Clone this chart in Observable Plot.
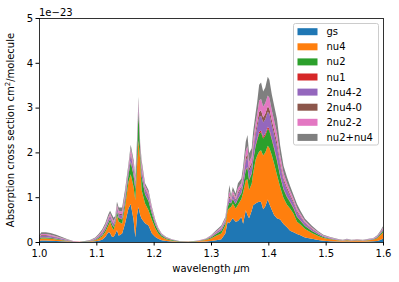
<!DOCTYPE html>
<html><head><meta charset="utf-8">
<script src="https://cdn.jsdelivr.net/npm/d3@7"></script>
<script src="https://cdn.jsdelivr.net/npm/@observablehq/plot@0.6"></script>
<style>body{margin:0;background:#fff}#chart{width:399px;height:282px}</style>
</head><body><div id="chart"></div>
<script>
const wavelength = [
1.000,1.004,1.012,1.020,1.030,1.040,1.050,1.060,1.070,1.080,
1.090,1.098,1.104,1.110,1.1155,1.121,1.124,1.127,1.130,1.133,
1.136,1.139,1.145,1.150,1.156,1.160,1.165,1.168,1.171,1.1735,
1.1765,1.179,1.185,1.191,1.197,1.203,1.208,1.214,1.222,1.232,
1.245,1.260,1.270,1.279,1.291,1.300,1.309,1.318,1.325,1.329,
1.332,1.335,1.338,1.343,1.347,1.353,1.356,1.3606,1.3636,1.3664,
1.371,1.3735,1.3777,1.3806,1.384,1.3873,1.391,1.3947,1.399,1.4018,
1.406,1.410,1.415,1.4207,1.4265,1.4325,1.438,1.444,1.450,1.456,
1.464,1.476,1.487,1.496,1.508,1.520,1.530,1.537,1.545,1.555,
1.565,1.575,1.583,1.590,1.595,1.600];

const gs = [
.02,.035,.035,.03,.025,.017,.009,.004,.002,.003,
.008,.015,.03,.05,.11,.22,.2,.12,.11,.18,
.26,.14,.19,.41,.75,.85,.49,.1,.6,.78,
.6,.52,.42,.37,.19,.11,.07,.04,.02,.01,
.004,.002,.003,.006,.012,.02,.04,.06,.19,.45,
.42,.48,.53,.45,.47,.56,.41,.71,.6,.53,
.7,.82,.86,.88,.9,.9,.73,.8,.95,.85,
.72,.6,.53,.5,.4,.33,.25,.22,.18,.15,
.1,.07,.045,.03,.018,.01,.007,.01,.007,.008,
.007,.01,.014,.025,.045,.07];

const nu4 = [
.03,.045,.045,.04,.032,.022,.012,.005,.002,.004,
.01,.025,.045,.07,.11,.15,.25,.22,.15,.22,
.34,.31,.22,.37,.59,.66,.74,.83,1.1,1.49,
1.23,.64,.44,.34,.3,.19,.12,.07,.04,.02,
.008,.005,.007,.014,.03,.06,.1,.13,.18,.26,
.34,.3,.33,.3,.36,.4,.69,.67,.8,.63,
.6,.71,.97,1.05,1.12,1.15,1.2,1.2,1.2,1.25,
1.22,1.15,.97,.72,.58,.5,.5,.41,.27,.24,
.19,.13,.09,.06,.042,.027,.02,.027,.02,.024,
.02,.027,.036,.06,.1,.14];

const nu2 = [
.015,.02,.02,.02,.016,.011,.006,.003,.001,.002,
.005,.01,.018,.03,.05,.06,.06,.07,.07,.05,
.08,.085,.09,.1,.15,.28,.25,.24,.28,.62,
.18,.3,.2,.2,.13,.08,.055,.033,.02,.012,
.005,.003,.004,.007,.012,.022,.04,.06,.06,.07,
.12,.08,.1,.09,.13,.13,.16,.22,.25,.22,
.22,.27,.3,.34,.4,.4,.38,.38,.38,.38,
.34,.33,.32,.24,.19,.17,.14,.12,.11,.085,
.065,.045,.03,.02,.014,.009,.006,.009,.006,.008,
.006,.009,.011,.018,.027,.04];

const nu1 = [
.003,.005,.005,.005,.004,.003,.002,.001,0,.001,
.001,.002,.004,.005,.008,.01,.01,.01,.01,.008,
.01,.01,.012,.012,.012,.02,.02,.02,.02,.03,
.02,.02,.015,.015,.01,.007,.005,.003,.002,.001,
.001,0,0,.001,.002,.003,.004,.006,.006,.007,
.01,.008,.01,.01,.013,.012,.015,.02,.025,.02,
.02,.025,.03,.035,.04,.04,.04,.04,.04,.04,
.035,.035,.035,.025,.02,.017,.014,.012,.01,.008,
.006,.004,.003,.002,.001,.001,.001,.001,.001,.001,
.001,.001,.001,.002,.003,.004];

const twoNu4m2 = [
.022,.035,.035,.032,.025,.017,.009,.004,.002,.003,
.008,.015,.025,.04,.045,.055,.055,.06,.06,.04,
.065,.07,.08,.085,.08,.13,.12,.11,.11,.12,
.06,.13,.085,.085,.055,.037,.025,.016,.01,.006,
.003,.002,.002,.004,.008,.015,.025,.038,.04,.045,
.1,.055,.08,.07,.1,.1,.13,.19,.22,.18,
.17,.2,.23,.26,.33,.33,.32,.32,.34,.34,
.3,.29,.28,.22,.17,.15,.12,.1,.095,.075,
.055,.038,.025,.017,.012,.008,.005,.008,.005,.006,
.005,.008,.009,.015,.022,.032];

const twoNu4m0 = [
.01,.015,.015,.013,.011,.008,.004,.002,.001,.001,
.003,.006,.01,.015,.017,.02,.02,.02,.02,.015,
.025,.025,.03,.03,.03,.05,.04,.04,.04,.04,
.03,.05,.035,.035,.02,.015,.01,.006,.004,.002,
.001,.001,.001,.002,.003,.006,.01,.015,.016,.018,
.04,.02,.03,.027,.04,.035,.045,.07,.08,.065,
.065,.075,.085,.1,.12,.12,.11,.12,.12,.12,
.11,.1,.1,.075,.06,.05,.04,.035,.03,.025,
.018,.013,.008,.005,.004,.002,.002,.002,.002,.002,
.002,.002,.003,.005,.007,.01];

const twoNu2m2 = [
.015,.025,.025,.023,.018,.012,.007,.002,.001,.002,
.005,.01,.018,.028,.035,.045,.045,.05,.05,.03,
.05,.055,.06,.06,.06,.1,.09,.08,.08,.07,
.04,.09,.06,.06,.04,.025,.017,.01,.006,.004,
.001,.001,.001,.003,.006,.011,.018,.027,.03,.035,
.1,.045,.065,.06,.085,.08,.1,.15,.17,.14,
.135,.16,.18,.2,.25,.25,.24,.24,.24,.24,
.22,.21,.2,.15,.12,.1,.08,.07,.065,.05,
.037,.026,.017,.011,.008,.006,.004,.006,.004,.005,
.004,.006,.007,.011,.016,.024];

const nu2PlusNu4 = [
.025,.04,.04,.037,.029,.02,.011,.004,.001,.004,
.01,.017,.03,.042,.045,.06,.06,.07,.07,.037,
.07,.075,.088,.093,.068,.08,.08,.07,.07,.09,
.04,.08,.055,.055,.035,.026,.018,.012,.008,.005,
.002,.001,.002,.003,.007,.013,.023,.034,.038,.045,
.14,.052,.085,.073,.112,.103,.13,.21,.245,.195,
.18,.2,.215,.265,.35,.37,.34,.35,.42,.4,
.355,.335,.315,.22,.16,.133,.106,.083,.09,.067,
.049,.034,.022,.015,.011,.007,.005,.007,.005,.006,
.005,.007,.009,.014,.02,.03];

const seriesNames = ["gs","nu4","nu2","nu1","2nu4-2","2nu4-0","2nu2-2","nu2+nu4"];
const seriesValues = [gs, nu4, nu2, nu1, twoNu4m2, twoNu4m0, twoNu2m2, nu2PlusNu4];
const seriesColors = ["#1f77b4","#ff7f0e","#2ca02c","#d62728","#9467bd","#8c564b","#e377c2","#7f7f7f"];
const xTicks = [1.0,1.1,1.2,1.3,1.4,1.5,1.6];
const yTicks = [0,1,2,3,4,5];
const yOffsetLabel = "1e\u221223";
const xLabel = "wavelength ";
const yLabel = "Absorption cross section cm";

const rows = [];
seriesNames.forEach((s, i) => {
  wavelength.forEach((w, j) => rows.push({w, v: seriesValues[i][j], s}));
});

const W = 399, H = 282;
const mL = 39, mR = 16, mT = 18, mB = 40;
const plot = Plot.plot({
  width: W, height: H,
  marginLeft: mL, marginRight: mR, marginTop: mT, marginBottom: mB,
  style: {fontFamily: "DejaVu Sans", fontSize: "10px", background: "white", color: "black", overflow: "visible"},
  x: {domain: [1.0, 1.6], ticks: xTicks, tickFormat: d3.format(".1f"), label: null, tickSize: 3.5, tickPadding: 3.5},
  y: {domain: [0, 5], ticks: yTicks, tickFormat: d3.format("d"), label: null, tickSize: 3.5, tickPadding: 3},
  color: {domain: seriesNames, range: seriesColors},
  marks: [
    Plot.areaY(rows, {x: "w", y: "v", fill: "s", z: "s", order: seriesNames, curve: "linear"}),
    Plot.frame({stroke: "black", strokeWidth: 0.8})
  ]
});
document.getElementById("chart").appendChild(plot);

const svg = d3.select(plot);
const font = "DejaVu Sans";
// offset text
svg.append("text").attr("x", mL).attr("y", 15.5).attr("text-anchor", "start").attr("font-family", font).attr("font-size", 10)
  .attr("fill", "black").text(yOffsetLabel);
// x label
const xl = svg.append("text").attr("x", (mL + W - mR) / 2).attr("y", 271.5).attr("text-anchor", "middle")
  .attr("font-family", font).attr("font-size", 10).attr("fill", "black");
xl.append("tspan").text(xLabel);
xl.append("tspan").attr("font-style", "italic").text("\u03bc");
xl.append("tspan").text("m");
// y label
const yl = svg.append("text").attr("transform", "translate(14,130) rotate(-90)").attr("text-anchor", "middle")
  .attr("font-family", font).attr("font-size", 10).attr("fill", "black");
yl.append("tspan").text(yLabel);
yl.append("tspan").attr("font-size", 7).attr("dy", -4).text("2");
yl.append("tspan").attr("dy", 4).text("/molecule");
// legend
const lg = svg.append("g");
lg.append("rect").attr("x", 293.5).attr("y", 23.5).attr("width", 85).attr("height", 121.5).attr("rx", 2)
  .attr("fill", "white").attr("fill-opacity", 0.8).attr("stroke", "#cccccc").attr("stroke-width", 1);
seriesNames.forEach((s, i) => {
  const cy = 31.7 + i * 15.1;
  lg.append("rect").attr("x", 297.5).attr("y", cy - 3.5).attr("width", 20).attr("height", 7).attr("fill", seriesColors[i]);
  lg.append("text").attr("x", 326.5).attr("y", cy).attr("dy", "0.35em").attr("text-anchor", "start").attr("font-family", font)
    .attr("font-size", 10).attr("fill", "black").text(s);
});
</script>
</body></html>
